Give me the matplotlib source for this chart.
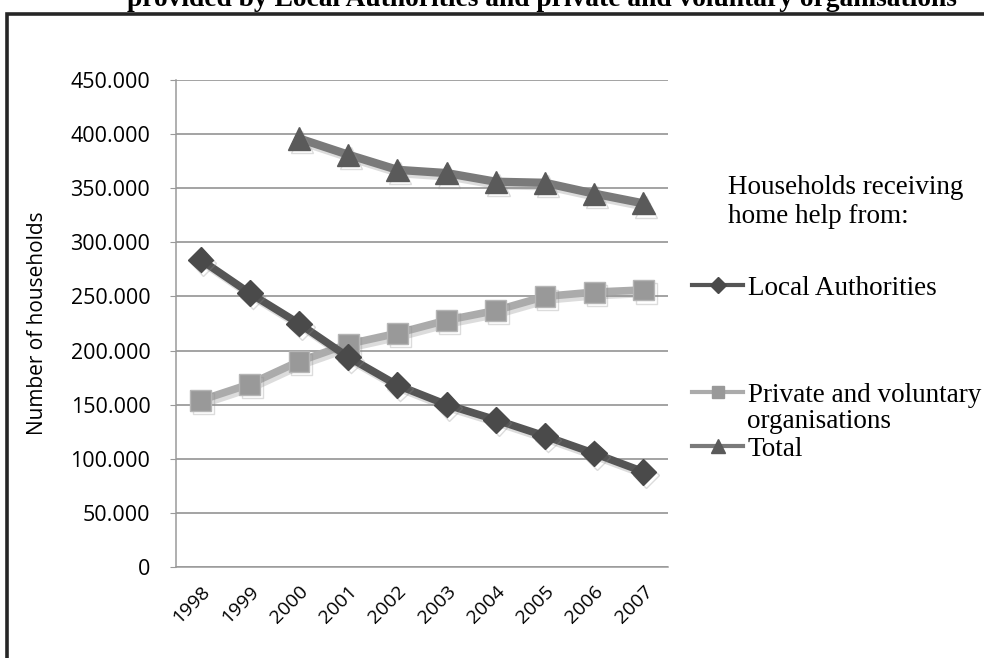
import matplotlib
matplotlib.use("Agg")
import matplotlib.pyplot as plt
import matplotlib.patheffects as pe
import matplotlib.transforms as mtransforms
from matplotlib.patches import Rectangle
from matplotlib.lines import Line2D
from matplotlib.ticker import FuncFormatter, MultipleLocator

years = ["1998", "1999", "2000", "2001", "2002", "2003", "2004", "2005", "2006", "2007"]
local_auth = [284000, 253000, 225000, 194000, 168000, 150000, 136000, 121000, 105000, 88000]
private_vol = [154000, 169000, 190000, 206000, 216000, 228000, 237000, 250000, 254000, 256000]
total_years = years[2:]
total = [396000, 381000, 367000, 364000, 356000, 355000, 345000, 336000]

series_names = ["Local Authorities", "Private and voluntary", "Total"]
legend_title = "Households receiving\nhome help from:"
title = "provided by Local Authorities and private and voluntary organisations"

W, H = 984, 658
fig = plt.figure(figsize=(W / 100, H / 100), dpi=100)

def px(x, y):
    return x / W, 1 - y / H

# page frame and the clipped heading above it
fig.patches.append(Rectangle(px(6.5, H + 20), (W + 20) / W, (H + 20 - 13.5) / H,
                             transform=fig.transFigure, fill=False,
                             edgecolor="#262626", linewidth=2.6))
fig.text(*px(542, 6), title, ha="center", va="baseline", fontsize=19.8,
         fontweight="bold", family="Liberation Serif")

ax = fig.add_axes([176 / W, 1 - 567 / H, 492 / W, 487 / H])
xs = list(range(len(years)))
xt = [years.index(y) for y in total_years]

shadow = [pe.SimpleLineShadow(offset=(2, -2.5), alpha=0.3, shadow_color="#8c8c8c"), pe.Normal()]

l1, = ax.plot(xs, local_auth, color="#555555", lw=5.5, marker="D", ms=13,
              mfc="#4a4a4a", mec="#4a4a4a", path_effects=shadow, zorder=4)
l2, = ax.plot(xs, private_vol, color="#ababab", lw=5.5, marker="s", ms=15,
              mfc="#999999", mec="#b5b5b5", mew=1, path_effects=shadow, zorder=3)
l3, = ax.plot(xt, total, color="#7a7a7a", lw=6, marker="^", ms=16,
              mfc="#5a5a5a", mec="#5a5a5a", path_effects=shadow, zorder=3)

ax.set_xlim(-0.5, len(years) - 0.5)
ax.set_ylim(0, 450000)
ax.yaxis.set_major_locator(MultipleLocator(50000))
ax.yaxis.set_major_formatter(FuncFormatter(lambda v, p: "0" if v == 0 else f"{int(v):,}".replace(",", ".")))
ax.grid(axis="y", color="#8a8a8a", lw=1.1)
ax.set_axisbelow(True)
for s in ["top", "right"]:
    ax.spines[s].set_visible(False)
for s in ["left", "bottom"]:
    ax.spines[s].set_color("#9a9a9a")
    ax.spines[s].set_linewidth(1.1)
ax.set_xticks(xs)
ax.set_xticklabels(years, rotation=45, ha="right", va="top", rotation_mode="anchor",
                   family="Open Sans", fontsize=14)
shift = mtransforms.ScaledTranslation(-9 / 100, 0, fig.dpi_scale_trans)
for t in ax.get_xticklabels():
    t.set_transform(t.get_transform() + shift)
ax.tick_params(axis="x", length=0, pad=11)
ax.tick_params(axis="y", length=4, color="#9a9a9a", pad=14.5, labelsize=15.5)
for t in ax.get_yticklabels():
    t.set_family("Open Sans")
ax.set_ylabel("Number of households", family="Open Sans", fontsize=15)
ax.yaxis.set_label_coords((48 - 176) / 492, 0.5)

# legend block on the right
fig.text(*px(728, 202), legend_title, ha="left", va="center", fontsize=19.5,
         family="Liberation Serif", linespacing=1.22)
for h, name, y in [(l1, series_names[0], 288), (l2, series_names[1], 395), (l3, series_names[2], 449)]:
    proxy = Line2D([], [], color=h.get_color(), lw=3, marker=h.get_marker(),
                   ms=h.get_markersize() * 0.6, mfc=h.get_markerfacecolor(),
                   mec=h.get_markerfacecolor())
    fig.legend(handles=[proxy], labels=[name], loc="center left",
               bbox_to_anchor=px(692, y), frameon=False, handlelength=1.9,
               handletextpad=0.15, borderpad=0, borderaxespad=0,
               prop={"family": "Liberation Serif", "size": 19.5})
fig.text(*px(747, 421), "organisations", ha="left", va="center", fontsize=19.5,
         family="Liberation Serif")

fig.savefig("out.png", dpi=100)
